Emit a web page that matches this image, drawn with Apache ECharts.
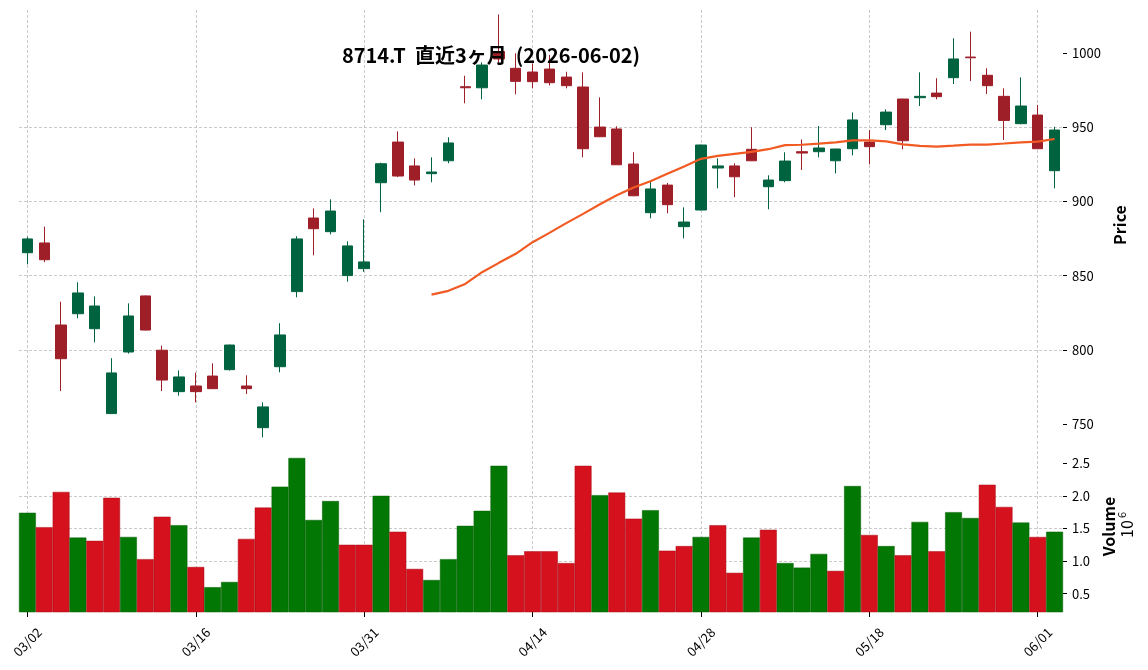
<!DOCTYPE html>
<html>
<head>
<meta charset="utf-8">
<title>8714.T</title>
<script src="https://cdn.jsdelivr.net/npm/echarts@6.0.0/dist/echarts.min.js"></script>
<style>
  html, body { margin: 0; padding: 0; background: #fff; }
  #chart { width: 1148px; height: 670px; }
</style>
</head>
<body>
<div id="chart"></div>
<script>
// trading days (TSE calendar, 2026-03-02 .. 2026-06-02)
const dates = [
  '03/02', '03/03', '03/04', '03/05', '03/06', '03/09', '03/10', '03/11', '03/12', '03/13',
  '03/16', '03/17', '03/18', '03/19', '03/23', '03/24', '03/25', '03/26', '03/27', '03/30',
  '03/31', '04/01', '04/02', '04/03', '04/06', '04/07', '04/08', '04/09', '04/10', '04/13',
  '04/14', '04/15', '04/16', '04/17', '04/20', '04/21', '04/22', '04/23', '04/24', '04/27',
  '04/28', '04/30', '05/01', '05/07', '05/08', '05/11', '05/12', '05/13', '05/14', '05/15',
  '05/18', '05/19', '05/20', '05/21', '05/22', '05/25', '05/26', '05/27', '05/28', '05/29',
  '06/01', '06/02'
]
const opens = [
  865.4, 872.0, 816.7, 824.3, 814.2, 757.0, 798.5, 836.3, 799.7, 771.8,
  775.6, 782.3, 786.6, 775.6, 747.5, 788.6, 839.2, 888.8, 879.6, 850.0,
  854.7, 912.6, 940.0, 923.9, 918.7, 927.4, 977.3, 976.6, 1001.0, 989.7,
  987.2, 989.2, 983.8, 977.1, 950.1, 948.8, 925.2, 892.4, 911.0, 883.0,
  894.2, 922.5, 923.9, 935.1, 909.9, 914.0, 933.5, 933.5, 927.4, 935.5,
  940.0, 951.7, 969.0, 969.9, 973.0, 983.4, 997.3, 985.0, 970.8, 952.4,
  958.2, 920.7
]
const closes = [
  874.7, 860.7, 794.0, 838.3, 829.5, 784.4, 822.8, 813.3, 779.6, 781.7,
  771.8, 773.8, 803.2, 773.8, 761.5, 810.0, 874.7, 881.6, 893.5, 870.0,
  859.2, 925.4, 917.1, 914.4, 919.8, 939.4, 976.6, 991.9, 996.0, 980.9,
  980.7, 980.0, 978.0, 935.5, 943.6, 924.7, 903.8, 908.4, 897.8, 886.1,
  938.0, 923.9, 916.6, 927.4, 914.4, 927.2, 932.6, 936.0, 935.3, 954.9,
  936.9, 960.2, 940.9, 970.8, 970.6, 996.0, 996.8, 978.0, 954.6, 964.3,
  935.5, 948.1
]
const lows = [
  857.6, 859.0, 772.2, 821.2, 805.0, 756.8, 797.4, 813.0, 772.2, 769.1,
  764.6, 773.5, 786.0, 770.2, 741.0, 784.8, 835.4, 863.7, 877.8, 845.9,
  852.6, 892.7, 916.4, 910.8, 912.9, 925.7, 966.1, 968.8, 993.5, 972.2,
  976.2, 978.2, 976.2, 929.7, 943.3, 924.5, 903.5, 888.6, 892.0, 875.1,
  894.0, 908.8, 902.8, 927.2, 894.7, 912.9, 921.2, 929.7, 918.9, 931.1,
  925.0, 948.1, 935.1, 964.3, 968.8, 979.1, 981.1, 972.4, 941.4, 952.0,
  935.3, 908.8
]
const highs = [
  876.2, 883.0, 832.4, 845.5, 836.0, 794.3, 831.3, 836.6, 802.8, 786.1,
  784.6, 790.9, 803.5, 782.8, 764.6, 817.9, 876.5, 895.3, 901.4, 873.1,
  887.9, 926.1, 947.2, 929.0, 929.7, 943.2, 984.7, 993.7, 1026.0, 999.8,
  993.0, 998.7, 987.4, 987.0, 970.1, 950.6, 933.1, 914.4, 912.4, 896.0,
  938.3, 929.0, 925.7, 950.0, 917.6, 933.1, 941.8, 950.8, 935.5, 960.0,
  948.1, 962.0, 969.2, 987.0, 983.0, 1009.9, 1014.4, 989.7, 976.2, 983.6,
  965.0, 950.3
]
// volume, millions of shares
const volumes = [
  1.74, 1.52, 2.06, 1.36, 1.31, 1.97, 1.37, 1.03, 1.68, 1.55,
  0.91, 0.60, 0.68, 1.34, 1.82, 2.14, 2.58, 1.63, 1.92, 1.25,
  1.25, 2.00, 1.45, 0.88, 0.71, 1.03, 1.54, 1.77, 2.46, 1.09,
  1.15, 1.15, 0.97, 2.46, 2.01, 2.05, 1.65, 1.78, 1.16, 1.23,
  1.37, 1.55, 0.82, 1.36, 1.48, 0.97, 0.90, 1.11, 0.85, 2.15,
  1.40, 1.23, 1.09, 1.60, 1.15, 1.75, 1.66, 2.17, 1.83, 1.59,
  1.37, 1.45
]
const priceTicks = [750, 800, 850, 900, 950, 1000]
const volumeTicks = [0.5, 1.0, 1.5, 2.0, 2.5]
const maPeriod = 25

const UP = '#00633f'
const DOWN = '#9f1f29'
const VOL_UP = '#037703'
const VOL_DOWN = '#d4111c'
const FONT = '"Noto Sans CJK JP", "Noto Sans", sans-serif'

const candles = dates.map((d, i) => [opens[i], closes[i], lows[i], highs[i]])

const ma = closes.map((c, i) => {
  if (i < maPeriod - 1) return '-'
  let sum = 0
  for (let j = i - maPeriod + 1; j <= i; j++) sum += closes[j]
  return +(sum / maPeriod).toFixed(2)
})

// volume colour follows close vs previous close
const volumeBars = volumes.map((v, i) => {
  const up = i === 0 || closes[i] > closes[i - 1]
  return {
    value: v,
    itemStyle: {
      color: up ? VOL_UP : VOL_DOWN,
      borderColor: up ? '#025f02' : '#a80d16'
    }
  }
})

const gridLine = { lineStyle: { color: '#bdbdbd', width: 0.8, type: [3, 2] }}

const chart = echarts.init(document.getElementById('chart'))

chart.setOption({
  animation: false,
  textStyle: { fontFamily: FONT },
  grid: [
    { left: 19, right: 85, top: 10, height: 430 },
    { left: 19, right: 85, top: 441, height: 171 }
  ],
  xAxis: [
    {
      type: 'category', gridIndex: 0, data: dates, boundaryGap: true,
      axisLine: { show: false }, axisTick: { show: false }, axisLabel: { show: false },
      splitLine: { show: false }
    },
    {
      type: 'category', gridIndex: 1, data: dates, boundaryGap: true,
      axisLine: { show: false, onZero: false },
      axisTick: { show: true, alignWithLabel: true, interval: 9, length: 5, lineStyle: { color: '#000' }},
      axisLabel: {
        interval: 9, rotate: 45, align: 'center', verticalAlign: 'middle', margin: 30,
        fontSize: 13, color: '#000', fontFamily: FONT
      },
      splitLine: { show: false }
    },
    // value axes only used for the vertical dashed grid lines through candle centres
    {
      type: 'value', gridIndex: 0, min: -0.5, max: dates.length - 0.5, position: 'top',
      axisLine: { show: false, onZero: false }, axisTick: { show: false }, axisLabel: { show: false },
      splitLine: Object.assign({ show: true, showMinLine: false, showMaxLine: false }, gridLine)
    },
    {
      type: 'value', gridIndex: 1, min: -0.5, max: dates.length - 0.5, position: 'top',
      axisLine: { show: false, onZero: false }, axisTick: { show: false }, axisLabel: { show: false },
      splitLine: Object.assign({ show: true, showMinLine: false, showMaxLine: false }, gridLine)
    }
  ],
  yAxis: [
    {
      type: 'value', gridIndex: 0, position: 'right', min: 739.2, max: 1029,
      axisLine: { show: false, onZero: false },
      axisTick: { show: true, length: 4, customValues: priceTicks, lineStyle: { color: '#000' }},
      axisLabel: {
        customValues: priceTicks, margin: 9, fontSize: 13, color: '#000', fontFamily: FONT,
        formatter: v => String(v)
      },
      splitLine: Object.assign({ show: true, showMinLine: false, showMaxLine: false }, gridLine),
      name: 'Price', nameLocation: 'middle', nameRotate: 90, nameGap: 34,
      nameTextStyle: { fontSize: 16, fontWeight: 'bold', color: '#000', fontFamily: FONT }
    },
    {
      type: 'value', gridIndex: 1, position: 'right', min: 0.22, max: 2.84,
      axisLine: { show: false, onZero: false },
      axisTick: { show: true, length: 4, customValues: volumeTicks, lineStyle: { color: '#000' }},
      axisLabel: {
        customValues: volumeTicks, margin: 9, fontSize: 13, color: '#000', fontFamily: FONT,
        formatter: v => v.toFixed(1)
      },
      splitLine: Object.assign({ show: true, showMinLine: false, showMaxLine: false }, gridLine),
      name: 'Volume', nameLocation: 'middle', nameRotate: 90, nameGap: 26,
      nameTextStyle: { fontSize: 16, fontWeight: 'bold', color: '#000', fontFamily: FONT }
    }
  ],
  graphic: [
    {
      type: 'text', x: 491, y: 55, z: 100,
      style: {
        text: '8714.T  直近3ヶ月  (2026-06-02)',
        fontSize: 20, fontWeight: 'bold', fontFamily: FONT, fill: '#000',
        align: 'center', verticalAlign: 'middle'
      }
    },
    {
      type: 'text', x: 1127, y: 529, rotation: Math.PI / 2, z: 100,
      style: { text: '10', fontSize: 16, fontFamily: FONT, fill: '#000', align: 'center', verticalAlign: 'middle' }
    },
    {
      type: 'text', x: 1122, y: 515, rotation: Math.PI / 2, z: 100,
      style: { text: '6', fontSize: 11, fontFamily: FONT, fill: '#000', align: 'center', verticalAlign: 'middle' }
    }
  ],
  series: [
    {
      name: 'candle',
      type: 'candlestick',
      xAxisIndex: 0,
      yAxisIndex: 0,
      data: candles,
      barWidth: '65%',
      itemStyle: {
        color: UP,
        color0: DOWN,
        borderColor: UP,
        borderColor0: DOWN,
        borderWidth: 1
      }
    },
    {
      name: 'MA25',
      type: 'line',
      xAxisIndex: 0,
      yAxisIndex: 0,
      data: ma,
      showSymbol: false,
      z: 5,
      lineStyle: { color: '#f15a22', width: 2.2 }
    },
    {
      name: 'Volume',
      type: 'bar',
      xAxisIndex: 1,
      yAxisIndex: 1,
      data: volumeBars,
      barWidth: '100%',
      itemStyle: { borderWidth: 0.5 }
    }
  ]
})
</script>
</body>
</html>
